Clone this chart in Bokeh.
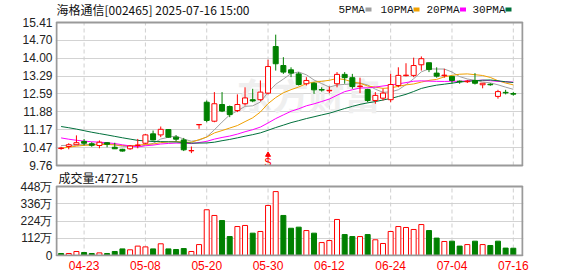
import numpy as np
from bokeh.plotting import figure
from bokeh.models import Range1d, FixedTicker, Label
from bokeh.models import ColumnDataSource
from bokeh.embed import file_html
from bokeh.resources import INLINE
from bokeh.core.properties import value

# ---------------- data ----------------
dates = ["04-18", "04-21", "04-22", "04-23", "04-24", "04-25", "04-28", "04-29", "04-30", "05-06",
         "05-07", "05-08", "05-09", "05-12", "05-13", "05-14", "05-15", "05-16", "05-19", "05-20",
         "05-21", "05-22", "05-23", "05-26", "05-27", "05-28", "05-29", "05-30", "06-03", "06-04",
         "06-05", "06-06", "06-09", "06-10", "06-11", "06-12", "06-13", "06-16", "06-17", "06-18",
         "06-19", "06-20", "06-23", "06-24", "06-25", "06-26", "06-27", "06-30", "07-01", "07-02",
         "07-03", "07-04", "07-07", "07-08", "07-09", "07-10", "07-11", "07-14", "07-15", "07-16"]

opens = [10.43, 10.51, 10.58, 10.71, 10.62, 10.55, 10.66, 10.48, 10.40, 10.42,
         10.55, 10.64, 11.01, 10.97, 11.18, 10.88, 10.77, 10.34, 11.37, 12.26,
         11.51, 12.17, 12.09, 11.93, 12.20, 12.36, 12.36, 12.62, 14.46, 13.71,
         13.54, 13.38, 12.99, 13.01, 12.76, 12.71, 12.99, 13.36, 13.23, 12.88,
         12.76, 12.33, 12.42, 12.36, 12.92, 13.31, 13.32, 13.74, 13.82, 13.41,
         13.31, 13.28, 13.09, 13.07, 13.12, 12.95, 12.97, 12.49, 12.65, 12.60]
highs = [10.50, 10.64, 10.95, 10.81, 10.68, 10.75, 10.68, 10.66, 10.42, 10.57,
         10.81, 11.00, 11.14, 11.30, 11.20, 10.96, 10.85, 10.51, 11.38, 12.33,
         12.66, 12.66, 12.13, 12.57, 12.85, 12.79, 13.12, 13.94, 14.93, 14.04,
         13.64, 13.45, 13.25, 13.05, 12.85, 12.88, 13.45, 13.45, 13.38, 13.23,
         12.79, 12.66, 12.79, 13.38, 13.64, 13.80, 14.02, 14.07, 13.82, 13.64,
         13.58, 13.28, 13.12, 13.14, 13.41, 13.01, 13.01, 12.75, 12.75, 12.66]
lows = [10.38, 10.40, 10.57, 10.55, 10.50, 10.44, 10.48, 10.42, 10.31, 10.38,
        10.44, 10.60, 10.75, 10.88, 10.86, 10.72, 10.33, 10.25, 11.21, 11.47,
        11.47, 11.87, 11.67, 11.87, 12.13, 12.26, 12.30, 12.57, 13.51, 13.38,
        13.25, 12.92, 12.92, 12.59, 12.68, 12.62, 12.85, 12.99, 12.79, 12.62,
        12.26, 12.20, 12.33, 12.26, 12.85, 13.28, 13.25, 13.51, 13.45, 13.23,
        13.23, 12.99, 12.99, 13.02, 12.96, 12.81, 12.91, 12.40, 12.57, 12.52]
closes = [10.45, 10.58, 10.66, 10.64, 10.56, 10.68, 10.60, 10.42, 10.33, 10.53,
          10.57, 10.97, 10.77, 11.19, 10.88, 10.80, 10.38, 10.35, 11.38, 11.54,
          12.20, 11.91, 11.77, 12.17, 12.43, 12.31, 12.66, 13.67, 13.78, 13.45,
          13.41, 12.96, 13.12, 12.75, 12.74, 12.73, 13.36, 13.23, 12.88, 12.90,
          12.33, 12.53, 12.62, 12.96, 13.32, 13.33, 13.71, 13.98, 13.55, 13.29,
          13.33, 13.12, 13.07, 13.09, 13.01, 13.01, 12.95, 12.68, 12.63, 12.58]
# closes of the 29 sessions before the visible window (estimated so the MAs start where shown)
prev_closes = [12.0, 12.3, 12.5, 12.4, 12.3, 12.2, 12.1, 12.0, 12.1, 12.1,
               11.6, 11.5, 11.3, 11.1, 11.0, 11.0, 11.1, 11.3, 11.4, 11.3,
               10.15, 10.25, 10.3, 10.45, 10.5,
               10.55, 10.60, 10.55, 10.60]

volumes = [13, 13, 26, 19.5, 13, 17, 13, 26, 43, 37,
           61, 56, 43, 76, 43, 39, 45, 26, 71, 297,
           260, 227, 123, 188, 195, 145, 156, 325, 415, 260,
           177, 184, 162, 145, 84, 97, 234, 136, 123, 123,
           136, 102, 78, 156, 188, 182, 169, 201, 162, 113,
           91, 93, 61, 71, 93, 71, 65, 93, 48, 47.2715]  # 万
vol_up = [0, 1, 1, 0, 0, 1, 0, 0, 0, 1,
          1, 1, 0, 1, 0, 0, 0, 1, 1, 1,
          1, 0, 0, 1, 1, 0, 1, 1, 1, 0,
          0, 0, 1, 0, 1, 1, 1, 0, 0, 1,
          0, 1, 1, 1, 1, 1, 1, 1, 0, 0,
          1, 0, 0, 1, 0, 1, 0, 0, 0, 0]

tick_dates = ["04-23", "05-08", "05-20", "05-30", "06-12", "06-24", "07-04", "07-16"]
price_ticks = [9.76, 10.47, 11.17, 11.88, 12.59, 13.29, 14.00, 14.70, 15.41]
vol_ticks = [0, 112, 224, 336, 448]
vol_tick_labels = ["0", "112万", "224万", "336万", "448万"]
ma_periods = [5, 10, 20, 30]
ma_names = ["5PMA", "10PMA", "20PMA", "30PMA"]
ma_colors = ["#a0a0a0", "#f0a000", "#ff00ff", "#00703c"]
signal_dates = ["05-30"]
signal_texts = ["S"]
title_text = "海格通信[002465] 2025-07-16 15:00"
vol_title = "成交量:472715"

# ---------------- styling / page layout (pixels) ----------------
RED = "#ff0000"
GREEN = "#008000"
GRID = "#d3d3d3"
VGRID = "#cfcfcf"
BORDER = "#9a9a9a"
AXIS_FONT = "Liberation Sans"
CJK_FONT = "Noto Sans CJK SC"

W, H = 578, 276
FRAME_L, FRAME_R, FRAME_T, FRAME_B = 55, 523, 0, 256
PANEL_L, PANEL_R = 56, 522
PRICE_T, PRICE_B = 22, 165
VOL_T, VOL_B = 186, 255
X_LO, X_HI = -0.6, 60.2   # panel edges in session-index units

ppx = (PANEL_R - PANEL_L) / (X_HI - X_LO)
x_range = Range1d(X_LO - (PANEL_L - FRAME_L) / ppx, X_HI + (FRAME_R - PANEL_R) / ppx)

p_lo, p_hi = price_ticks[0], price_ticks[-1]
ppy = (PRICE_B - PRICE_T) / (p_hi - p_lo)
y_range = Range1d(p_lo - (FRAME_B - PRICE_B) / ppy, p_hi + (PRICE_T - FRAME_T) / ppy)

v_lo, v_hi = vol_ticks[0], vol_ticks[-1]
vpy = (VOL_B - VOL_T) / (v_hi - v_lo)
vol_range = Range1d(v_lo - (FRAME_B - VOL_B) / vpy, v_hi + (VOL_T - FRAME_T) / vpy)


def vol_to_primary(vv):
    return y_range.start + (vv - vol_range.start) * (y_range.end - y_range.start) / (vol_range.end - vol_range.start)


def px_x(xp):
    return x_range.start + (xp - FRAME_L) / ppx


def px_y(yp):
    return y_range.end - (yp - FRAME_T) / ppy


n = len(dates)
idx = list(range(n))
tick_idx = [dates.index(d) for d in tick_dates]

up = [c >= o for o, c in zip(opens, closes)]
src = ColumnDataSource(dict(
    x=idx, high=highs, low=lows,
    top=[max(o, c) for o, c in zip(opens, closes)],
    bottom=[min(o, c) for o, c in zip(opens, closes)],
    line=[RED if u else GREEN for u in up],
    fill=["white" if u else GREEN for u in up],
))
vsrc = ColumnDataSource(dict(
    x=idx, vol=volumes,
    line=[RED if u else GREEN for u in vol_up],
    fill=["white" if u else GREEN for u in vol_up],
))

all_c = np.array(prev_closes + closes)
off = len(prev_closes)


def moving_avg(period):
    return [float(all_c[off + i - period + 1: off + i + 1].mean()) for i in range(n)]


p = figure(width=W, height=H, x_range=x_range, y_range=y_range,
           output_backend="svg", toolbar_location=None,
           min_border_left=FRAME_L, min_border_right=W - FRAME_R,
           min_border_top=FRAME_T, min_border_bottom=H - FRAME_B,
           background_fill_color="white", border_fill_color="white")
p.extra_y_ranges = {"vol": vol_range}
p.outline_line_color = None

# axes
vol_pos = [vol_to_primary(t) for t in vol_ticks]
y_ticks = price_ticks + vol_pos
overrides = {t: f"{t:.2f}" for t in price_ticks}
overrides.update({pos: lab for pos, lab in zip(vol_pos, vol_tick_labels)})
p.yaxis.ticker = FixedTicker(ticks=y_ticks)
p.yaxis.major_label_overrides = overrides
p.xaxis.ticker = FixedTicker(ticks=tick_idx)
p.xaxis.major_label_overrides = {i: dates[i] for i in tick_idx}
for ax in [p.yaxis[0], p.xaxis[0]]:
    ax.axis_line_color = None
    ax.major_tick_line_color = None
    ax.minor_tick_line_color = None
    ax.major_tick_out = 0
    ax.major_tick_in = 0
    ax.major_label_text_font = AXIS_FONT
    ax.major_label_text_font_size = "12px"
p.yaxis.major_label_standoff = 3
p.yaxis.major_label_text_color = "#222222"
p.xaxis.major_label_standoff = 4
p.xaxis.major_label_text_color = RED

# grids
p.xgrid.visible = False
p.ygrid.ticker = FixedTicker(ticks=y_ticks)
p.ygrid.grid_line_color = GRID
k = len(tick_idx)
p.segment(x0=tick_idx, y0=[p_lo] * k, x1=tick_idx, y1=[p_hi] * k,
          line_color=VGRID, line_dash="4 3", line_width=1)
p.segment(x0=tick_idx, y0=[v_lo] * k, x1=tick_idx, y1=[v_hi] * k,
          line_color=VGRID, line_dash="4 3", line_width=1, y_range_name="vol")

# watermark
p.add_layout(Label(x=px_x(308), y=px_y(93), text="东方财富", text_font=CJK_FONT, text_font_size="36px",
                   text_font_style="bold", text_color="#efefef", text_align="center",
                   text_baseline="middle", level="underlay"))

# moving averages
for per, col in zip(ma_periods, ma_colors):
    p.line(idx, moving_avg(per), line_color=col, line_width=1)

# candles
p.segment(x0="x", y0="low", x1="x", y1="high", line_color="line", line_width=1, source=src)
p.vbar(x="x", width=0.65, top="top", bottom="bottom", fill_color="fill", line_color="line",
       line_width=1, source=src)

# signal marker
sig_x = [dates.index(d) for d in signal_dates]
ns = len(sig_x)
p.scatter(sig_x, [p_lo + 0.42] * ns, marker="triangle", size=5, color=RED)
p.segment(sig_x, [p_lo + 0.38] * ns, sig_x, [p_lo + 0.12] * ns, line_color=RED, line_width=1)
p.text(sig_x, [p_lo + 0.14] * ns, text=signal_texts, text_color=RED,
       text_font=value(AXIS_FONT), text_font_size="11px", text_align="center", text_baseline="middle")

# volume bars
p.vbar(x="x", width=0.65, top="vol", bottom=0, fill_color="fill", line_color="line",
       line_width=1, source=vsrc, y_range_name="vol")

# panel borders
p.quad(left=[X_LO], right=[X_HI], bottom=[p_lo], top=[p_hi], fill_color=None,
       line_color=BORDER, line_width=2)
p.quad(left=[X_LO], right=[X_HI], bottom=[v_lo], top=[v_hi], fill_color=None,
       line_color=BORDER, line_width=2, y_range_name="vol")

# header: title + legend
p.add_layout(Label(x=px_x(56), y=px_y(8.5), text=title_text, text_font=CJK_FONT, text_font_size="12px",
                   text_color="#111111", text_align="left", text_baseline="middle"))
leg_text_px = [338, 380, 426, 472]
leg_sw_px = [368, 416, 462.5, 508]
for name, col, tx, sx in zip(ma_names, ma_colors, leg_text_px, leg_sw_px):
    p.add_layout(Label(x=px_x(tx), y=px_y(9), text=name, text_font="Liberation Mono",
                       text_font_size="11px", text_color="#111111", text_align="left",
                       text_baseline="middle"))
    p.rect(x=[px_x(sx)], y=[px_y(9)], width=6, height=4, width_units="screen",
           height_units="screen", fill_color=col, line_color=None)

# volume title
p.add_layout(Label(x=px_x(58), y=px_y(177), text=vol_title, text_font=CJK_FONT, text_font_size="12px",
                   text_color="#111111", text_align="left", text_baseline="middle"))

open("out.html", "w").write(file_html(p, INLINE))
